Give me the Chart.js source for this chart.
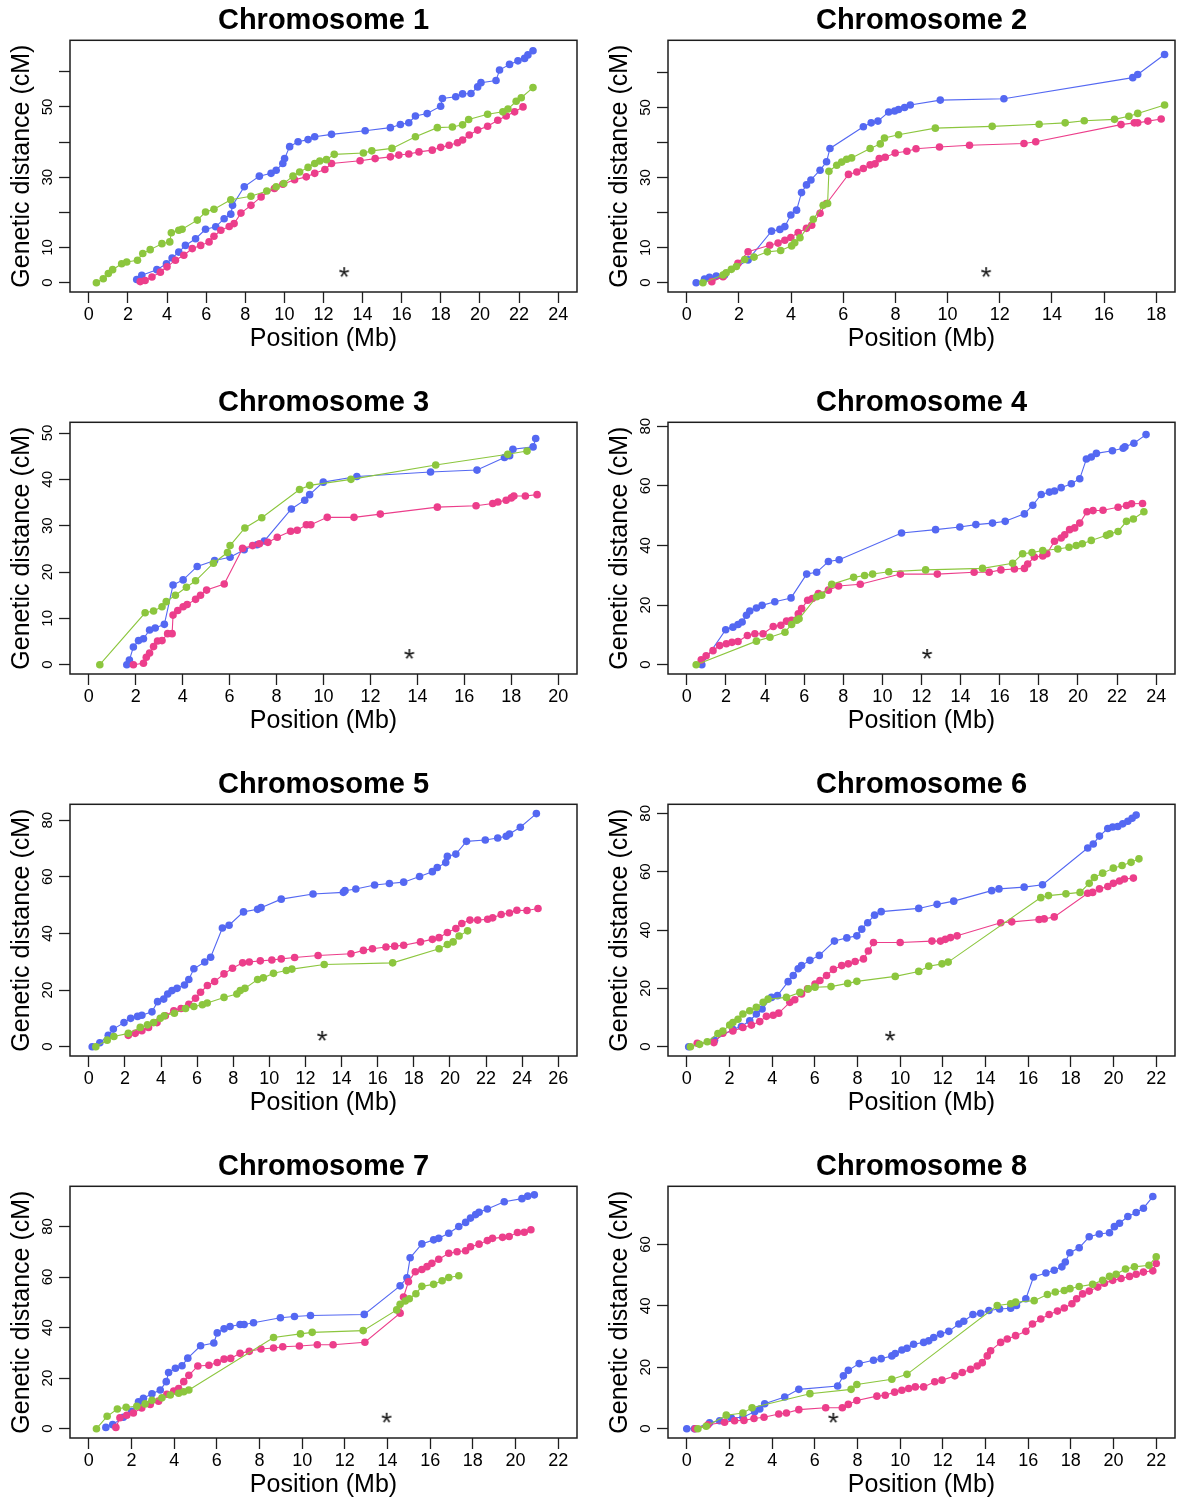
<!DOCTYPE html>
<html><head><meta charset="utf-8">
<script src="https://cdn.jsdelivr.net/npm/chart.js@4.4.1/dist/chart.umd.min.js"></script>
<style>
html,body{margin:0;padding:0;background:#fff;overflow:hidden;width:1183px;height:1501px;position:relative;}
.panel{position:absolute;width:590px;height:382px;}
</style></head><body>
<script>
// ---------- DATA (Position in Mb, Genetic distance in cM) ----------
const chromNames = ['Chromosome 1','Chromosome 2','Chromosome 3','Chromosome 4','Chromosome 5','Chromosome 6','Chromosome 7','Chromosome 8'];
const seriesNames = ['Blue map','Pink map','Green map'];

const chr1Blue = [[2.45,0.9],[2.71,2.1],[3.48,3.7],[3.97,5.4],[4.26,7.0],[4.6,8.7],[4.94,10.6],[5.46,12.5],[5.97,15.2],[6.49,15.9],[6.92,18.2],[7.26,19.5],[7.35,22.0],[7.95,27.3],[8.72,30.3],[9.32,31.1],[9.58,32.0],[9.92,33.9],[10.01,35.3],[10.27,38.7],[10.7,40.1],[11.21,40.7],[11.55,41.5],[12.41,42.2],[14.13,43.2],[15.42,44.1],[15.93,45.0],[16.36,45.5],[16.7,47.4],[17.3,48.1],[17.99,50.2],[18.08,52.4],[18.76,52.9],[19.11,53.7],[19.54,53.8],[19.88,55.7],[20.05,56.9],[20.82,57.5],[21.0,60.5],[21.51,62.1],[21.94,63.1],[22.28,63.8],[22.45,64.8],[22.71,66.0]];
const chr1Green = [[0.39,0],[0.74,1.1],[1.0,2.6],[1.22,3.7],[1.68,5.4],[1.94,5.9],[2.49,6.4],[2.76,8.3],[3.14,9.4],[3.74,11.1],[4.14,11.6],[4.22,14.2],[4.6,14.9],[4.77,15.2],[5.55,17.8],[5.97,20.1],[6.4,20.9],[7.26,23.6],[8.29,24.6],[9.1,26.1],[9.58,27.3],[9.97,28.2],[10.44,30.3],[10.78,31.5],[11.21,32.8],[11.55,33.9],[11.81,34.6],[12.15,35.0],[12.55,36.5],[14.04,36.9],[14.47,37.5],[15.5,38.2],[16.7,41.5],[17.82,44.1],[18.59,44.3],[19.11,44.9],[19.42,46.4],[20.39,47.9],[21.17,48.6],[21.43,49.4],[21.85,51.6],[22.11,52.6],[22.71,55.5]];
const chr1Pink = [[2.63,0.3],[2.88,0.6],[3.23,1.6],[3.66,3.0],[4.0,4.5],[4.43,6.4],[4.86,7.8],[5.29,9.7],[5.72,10.6],[6.15,11.6],[6.4,13.2],[6.75,14.9],[7.18,16.0],[7.43,16.8],[7.78,19.8],[8.29,22.0],[8.81,24.4],[9.49,26.8],[9.92,28.0],[10.52,29.3],[11.12,30.1],[11.55,31.1],[12.07,32.2],[12.41,33.9],[13.87,34.7],[14.64,35.3],[15.42,35.8],[15.85,36.3],[16.36,36.6],[16.88,37.2],[17.56,37.7],[17.99,38.5],[18.42,39.1],[18.85,39.8],[19.11,40.6],[19.45,42.0],[19.88,43.4],[20.39,44.5],[20.91,46.2],[21.34,47.4],[21.77,48.6],[22.2,50.0]];

const chr2Blue = [[0.36,0],[0.68,1.0],[0.87,1.5],[1.13,1.9],[1.45,2.2],[2.35,6.5],[3.25,14.7],[3.57,15.2],[3.76,16.0],[3.99,19.3],[4.21,20.7],[4.4,25.7],[4.59,27.9],[4.76,29.3],[5.11,32.1],[5.36,34.5],[5.49,38.3],[6.77,44.5],[7.07,45.6],[7.33,46.1],[7.74,48.7],[7.97,49.0],[8.12,49.4],[8.35,50.0],[8.57,50.7],[9.72,52.1],[12.16,52.5],[17.1,58.5],[17.29,59.4],[18.32,65.1]];
const chr2Green = [[0.62,0],[1.39,2.2],[1.51,2.8],[1.71,3.8],[1.9,4.6],[2.22,6.6],[2.58,7.3],[3.09,8.8],[3.6,9.2],[4.02,10.5],[4.14,11.4],[4.34,12.8],[4.85,18.1],[5.23,22.1],[5.4,22.6],[5.45,31.8],[5.75,33.5],[5.94,34.4],[6.13,35.2],[6.32,35.6],[7.03,38.3],[7.42,39.6],[7.58,41.3],[8.12,42.2],[9.53,44.1],[11.71,44.6],[13.51,45.2],[14.51,45.6],[15.24,46.2],[16.4,46.6],[16.95,47.5],[17.29,48.3],[18.32,50.7]];
const chr2Pink = [[0.96,0.3],[1.39,1.7],[1.96,5.5],[2.35,8.8],[3.18,10.7],[3.5,11.3],[3.76,12.1],[3.99,12.9],[4.27,14.3],[4.59,15.5],[4.79,16.4],[5.11,19.8],[5.36,22.6],[6.2,30.9],[6.52,31.6],[6.77,32.6],[7.03,33.6],[7.22,33.9],[7.38,35.4],[7.61,35.8],[7.99,37.0],[8.44,37.5],[8.79,38.2],[9.69,38.7],[10.84,39.2],[12.93,39.7],[13.38,40.2],[16.65,45.1],[17.16,45.6],[17.29,45.6],[17.68,46.1],[18.19,46.7]];

const chr3Blue = [[1.62,0],[1.73,1.0],[1.9,3.8],[2.12,5.2],[2.33,5.6],[2.59,7.5],[2.83,7.9],[3.22,8.7],[3.59,17.2],[4.02,18.3],[4.62,21.2],[5.36,22.5],[6.02,23.2],[6.62,24.8],[7.17,25.9],[7.48,26.7],[8.63,33.6],[9.2,35.5],[9.41,36.7],[9.99,39.4],[11.42,40.6],[14.56,41.6],[16.54,42.0],[17.71,44.7],[17.93,45.1],[18.07,46.5],[18.93,47.0],[19.04,48.8]];
const chr3Green = [[0.47,0],[2.4,11.2],[2.76,11.6],[3.12,12.5],[3.3,13.6],[3.69,15.0],[4.16,16.7],[4.55,18.1],[5.31,21.9],[5.91,24.2],[6.02,25.7],[6.65,29.5],[7.37,31.7],[8.98,37.8],[9.41,38.7],[11.17,40.0],[14.78,43.1],[17.85,45.4],[18.67,46.1]];
const chr3Pink = [[1.9,0],[2.33,0.3],[2.45,1.6],[2.59,2.5],[2.76,3.9],[2.93,5.1],[3.12,5.2],[3.36,6.7],[3.55,6.7],[3.59,10.7],[3.79,11.7],[4.02,12.5],[4.19,13.0],[4.55,14.1],[4.76,15.0],[5.02,16.1],[5.77,17.4],[6.55,25.1],[6.98,25.7],[7.27,26.1],[7.63,26.4],[8.03,27.5],[8.6,28.8],[8.88,29.0],[9.27,30.2],[9.46,30.2],[10.16,31.8],[11.3,31.8],[12.42,32.5],[14.85,34.0],[16.5,34.3],[17.21,34.8],[17.43,35.1],[17.78,35.5],[18.0,36.0],[18.11,36.4],[18.6,36.4],[19.1,36.7]];

const chr4Blue = [[0.77,0],[1.99,11.7],[2.36,12.6],[2.62,13.5],[2.83,14.3],[3.05,16.6],[3.22,18.0],[3.56,19.0],[3.85,19.9],[4.5,21.1],[5.33,22.4],[6.13,30.4],[6.64,31.0],[7.24,34.6],[7.79,35.2],[10.98,44.2],[12.72,45.3],[13.96,46.2],[14.78,47.0],[15.63,47.5],[16.28,48.1],[17.26,50.6],[17.69,53.5],[18.12,57.1],[18.54,57.9],[18.8,58.3],[19.14,59.4],[19.66,60.7],[20.09,62.4],[20.43,69.0],[20.68,69.7],[20.94,70.9],[21.76,71.8],[22.31,72.6],[22.4,73.1],[22.86,74.3],[23.48,77.2]];
const chr4Green = [[0.48,0],[3.56,7.9],[4.25,9.2],[5.02,10.9],[5.36,13.5],[5.62,14.9],[5.74,15.4],[6.64,22.8],[6.9,23.3],[7.41,27.0],[8.53,29.3],[9.09,29.9],[9.5,30.4],[10.33,31.2],[12.21,31.8],[15.12,32.3],[16.66,34.0],[17.17,37.2],[17.65,37.6],[18.2,38.3],[18.97,38.8],[19.54,39.4],[19.91,40.0],[20.22,40.6],[20.68,41.7],[21.46,43.4],[21.63,43.9],[22.05,44.7],[22.48,48.1],[22.83,48.9],[23.37,51.3]];
const chr4Pink = [[0.74,1.6],[0.99,3.0],[1.34,4.7],[1.68,6.4],[2.02,7.0],[2.31,7.5],[2.62,7.8],[3.1,9.8],[3.48,10.4],[3.9,10.4],[4.42,12.8],[4.81,13.2],[5.1,14.6],[5.36,14.9],[5.7,17.1],[5.87,18.8],[6.18,21.6],[6.42,22.2],[6.73,23.9],[7.24,25.0],[7.76,26.4],[8.87,27.0],[10.92,30.4],[12.81,30.4],[14.69,31.0],[15.46,31.0],[16.06,31.8],[16.75,32.1],[17.26,32.3],[17.43,33.8],[17.77,36.1],[18.2,36.5],[18.41,37.2],[18.8,41.4],[19.14,42.5],[19.32,43.6],[19.57,45.3],[19.83,45.9],[20.09,47.5],[20.46,51.3],[20.77,51.7],[21.28,51.8],[22.05,52.8],[22.48,53.4],[22.74,54.0],[23.3,54.1]];

const chr5Blue = [[0.19,0],[0.61,1.4],[1.08,4.0],[1.36,6.2],[1.95,8.5],[2.32,10.0],[2.7,10.7],[2.94,11.1],[3.5,12.3],[3.81,15.9],[4.15,16.8],[4.37,18.6],[4.61,19.8],[4.89,20.6],[5.3,21.8],[5.54,23.7],[5.82,27.5],[6.42,29.9],[6.75,31.6],[7.4,41.9],[7.77,42.9],[8.57,47.6],[9.35,48.5],[9.54,49.1],[10.66,52.1],[12.42,53.9],[14.1,54.5],[14.19,55.1],[14.79,55.7],[15.83,57.1],[16.65,57.6],[17.44,58.1],[18.32,60.1],[19.03,61.8],[19.3,63.3],[19.77,65.0],[19.86,67.2],[20.33,68.0],[20.92,72.5],[21.96,73.0],[22.65,73.7],[23.12,74.3],[23.3,75.1],[23.9,77.5],[24.79,82.3]];
const chr5Green = [[0.39,0],[1.02,2.3],[1.39,3.6],[2.19,4.7],[2.85,6.8],[3.25,7.7],[3.59,8.5],[3.96,10.0],[4.18,10.9],[4.74,11.8],[5.36,13.5],[5.82,14.2],[6.29,14.8],[6.56,15.4],[7.49,17.4],[8.2,18.6],[8.39,19.8],[8.65,20.6],[9.35,23.7],[9.67,24.3],[10.23,25.9],[10.94,26.9],[11.25,27.4],[13.04,29.0],[16.83,29.6],[19.4,34.6],[19.86,36.1],[20.18,37.0],[20.51,39.1],[20.98,40.9]];
const chr5Pink = [[2.19,4.0],[2.57,4.7],[2.94,5.6],[3.31,6.8],[3.78,8.5],[4.24,10.9],[4.71,12.7],[5.11,13.5],[5.54,15.0],[5.91,17.1],[6.19,19.2],[6.57,21.6],[6.97,23.0],[7.49,25.7],[7.96,27.7],[8.52,29.6],[8.89,29.9],[9.5,30.3],[10.14,30.6],[10.66,31.0],[11.4,31.5],[12.7,32.2],[14.52,32.8],[15.21,34.0],[15.71,34.6],[16.46,35.2],[16.94,35.5],[17.44,35.8],[18.37,37.0],[19.03,37.9],[19.4,38.5],[19.86,40.3],[20.33,41.7],[20.66,43.5],[21.11,44.7],[21.54,44.7],[22.09,45.0],[22.37,45.5],[22.84,46.7],[23.3,47.2],[23.71,48.2],[24.27,48.1],[24.88,48.8]];

const chr6Blue = [[0.09,0],[1.3,2.2],[2.16,6.0],[2.56,6.9],[2.95,8.9],[3.26,11.2],[3.53,12.9],[3.97,16.9],[4.25,17.5],[4.75,22.3],[4.99,24.4],[5.22,26.7],[5.38,27.8],[5.77,29.6],[6.21,31.3],[6.92,36.2],[7.5,37.3],[7.97,38.0],[8.2,40.3],[8.48,42.5],[8.8,45.1],[9.11,46.3],[10.87,47.4],[11.73,48.8],[12.51,49.9],[14.29,53.5],[14.63,54.1],[15.81,54.7],[16.67,55.5],[18.79,68.1],[19.05,69.5],[19.34,72.2],[19.73,74.8],[19.96,75.3],[20.2,75.5],[20.43,76.4],[20.67,77.3],[20.87,78.3],[21.06,79.4]];
const chr6Green = [[0.17,0],[0.6,0.8],[0.96,1.7],[1.46,4.5],[1.69,5.4],[2.01,7.4],[2.16,8.3],[2.4,9.4],[2.63,11.2],[2.95,12.3],[3.26,13.5],[3.58,15.2],[3.81,16.3],[4.67,16.9],[5.3,18.6],[5.69,19.8],[6.01,20.4],[6.76,20.6],[7.54,21.7],[7.97,22.4],[9.77,24.1],[10.87,25.8],[11.34,27.6],[11.96,28.4],[12.25,29.0],[16.59,51.1],[16.95,51.8],[17.77,52.4],[18.43,52.9],[18.86,56.0],[19.1,58.0],[19.49,59.5],[19.99,61.2],[20.4,62.1],[20.82,63.2],[21.19,64.4]];
const chr6Pink = [[0.49,1.2],[1.27,1.4],[1.69,4.6],[2.16,5.4],[2.63,6.6],[3.03,7.4],[3.42,8.6],[3.73,10.4],[4.05,10.8],[4.31,11.5],[4.83,15.2],[5.06,16.1],[5.38,18.1],[5.66,19.8],[6.01,21.5],[6.24,22.7],[6.55,24.4],[6.87,26.5],[7.26,27.8],[7.57,28.4],[7.89,29.2],[8.28,30.1],[8.51,32.8],[8.75,35.7],[10.0,35.7],[11.49,36.2],[11.89,36.2],[12.12,36.8],[12.36,37.4],[12.67,38.0],[14.71,42.5],[15.23,42.8],[16.51,43.6],[16.75,43.8],[17.22,44.5],[18.79,52.6],[19.02,52.9],[19.34,54.1],[19.73,54.9],[19.99,56.0],[20.28,56.8],[20.51,57.5],[20.93,57.8]];

const chr7Blue = [[0.8,0.5],[1.12,1.6],[1.62,4.5],[2.01,6.9],[2.33,10.6],[2.56,12.0],[2.96,13.8],[3.35,15.3],[3.63,18.6],[3.74,22.2],[4.06,23.9],[4.37,24.9],[4.64,27.9],[5.24,32.8],[5.86,33.9],[6.02,37.9],[6.34,39.5],[6.62,40.4],[7.09,41.2],[7.28,41.2],[7.72,41.9],[8.98,43.9],[9.64,44.4],[10.39,44.8],[12.91,45.2],[14.59,56.5],[14.91,59.7],[15.06,67.6],[15.61,73.1],[16.16,74.7],[16.4,75.3],[16.87,77.3],[17.34,80.0],[17.66,81.6],[17.89,83.3],[18.13,84.7],[18.29,85.6],[18.68,86.9],[19.47,89.8],[20.3,91.0],[20.57,92.0],[20.88,92.5]];
const chr7Green = [[0.36,0],[0.86,4.9],[1.34,7.8],[1.75,8.5],[2.25,8.9],[2.64,9.8],[2.96,11.2],[3.43,12.2],[3.82,13.3],[4.21,14.0],[4.45,14.6],[4.69,15.3],[8.66,36.1],[9.92,37.5],[10.47,38.1],[12.86,38.8],[14.43,47.0],[14.59,49.2],[14.83,50.5],[15.02,51.4],[15.33,53.4],[15.61,56.3],[16.16,57.1],[16.56,58.5],[16.87,59.8],[17.34,60.5]];
const chr7Pink = [[1.27,0.5],[1.46,4.3],[1.78,5.3],[2.09,6.2],[2.48,8.2],[2.88,9.6],[3.27,10.9],[3.66,13.6],[3.98,14.9],[4.21,15.9],[4.45,18.6],[4.69,21.1],[5.11,24.8],[5.63,25.1],[6.02,26.2],[6.34,27.5],[6.65,27.8],[7.09,29.8],[7.52,30.6],[8.07,31.5],[8.66,31.9],[9.09,32.4],[9.87,32.7],[10.71,33.2],[11.45,33.2],[12.94,34.2],[14.59,45.7],[14.75,52.1],[14.98,58.1],[15.3,62.1],[15.61,63.0],[15.85,64.1],[16.08,65.4],[16.4,67.0],[16.87,69.4],[17.26,70.0],[17.66,70.4],[17.89,72.0],[18.29,73.0],[18.68,74.4],[18.92,75.3],[19.39,75.7],[19.7,76.0],[20.09,77.6],[20.41,77.7],[20.72,78.7]];

const chr8Blue = [[0,0],[0.36,0],[1.07,1.9],[1.54,2.6],[2.09,3.5],[2.63,3.7],[3.18,5.5],[3.42,6.4],[3.65,8.1],[4.59,10.3],[5.25,12.8],[7.07,13.9],[7.34,17.2],[7.57,19.0],[8.08,21.2],[8.75,22.3],[9.11,22.8],[9.61,23.7],[9.77,24.5],[10.08,25.6],[10.32,26.2],[10.63,27.5],[11.1,28.1],[11.34,28.6],[11.57,29.7],[11.89,30.8],[12.28,31.7],[12.75,34.1],[12.98,35.0],[13.41,37.2],[13.77,37.6],[14.16,38.5],[14.66,39.0],[15.18,39.2],[15.45,40.1],[15.89,42.3],[16.25,49.4],[16.83,50.7],[17.22,51.6],[17.58,52.7],[17.74,54.3],[17.95,57.3],[18.39,58.9],[18.86,62.5],[19.33,63.4],[19.81,63.8],[20.04,65.8],[20.28,66.9],[20.67,69.1],[21.06,70.4],[21.4,71.8],[21.84,75.6]];
const chr8Green = [[0.52,0],[0.91,0.8],[1.85,4.4],[2.63,5.1],[3.06,6.8],[5.77,11.4],[7.7,12.8],[7.97,14.4],[9.61,16.1],[10.32,17.7],[14.55,40.1],[15.18,40.7],[15.41,41.2],[16.28,41.7],[16.9,43.7],[17.27,44.5],[17.69,45.0],[17.96,45.6],[18.39,46.3],[19.02,47.0],[19.49,48.3],[19.81,49.6],[20.12,50.3],[20.56,52.0],[20.98,52.7],[21.66,53.2],[22.0,56.0]];
const chr8Pink = [[0.39,0],[0.99,1.3],[1.77,2.1],[2.24,2.6],[2.68,2.7],[3.15,3.3],[3.62,3.7],[4.31,4.8],[4.67,5.1],[5.25,6.2],[6.51,6.8],[7.29,6.8],[7.57,7.9],[7.97,9.2],[8.91,10.6],[9.3,10.9],[9.74,11.9],[10.08,12.5],[10.4,13.1],[10.71,13.6],[11.1,13.6],[11.62,15.3],[11.96,15.8],[12.56,17.2],[12.91,18.3],[13.3,19.3],[13.61,20.4],[13.85,21.5],[14.08,23.7],[14.24,25.4],[14.71,28.1],[15.02,29.2],[15.41,30.3],[15.89,31.7],[16.2,34.1],[16.59,35.7],[16.98,37.2],[17.37,38.3],[17.69,39.3],[18.05,40.7],[18.27,42.3],[18.55,43.9],[18.86,44.8],[19.26,46.1],[19.57,47.4],[19.96,48.3],[20.35,48.9],[20.75,49.6],[21.06,50.3],[21.4,51.0],[21.84,51.4],[22.0,53.8]];

// star markers (position in Mb, height in cM)
const starX = [13.06, 11.48, 13.66, 12.29, 12.93, 9.53, 13.96, 6.87];
const starY = [3.0, 3.0, 2.3, 3.6, 3.8, 3.7, 4.3, 3.5];

// axes
const xTickMax = [24, 18, 20, 24, 26, 22, 22, 22];
const xTickStep = 2;
const yTickValues = [
  [0,10,20,30,40,50,60],[0,10,20,30,40,50,60],[0,10,20,30,40,50],
  [0,20,40,60,80],[0,20,40,60,80],[0,20,40,60,80],[0,20,40,60,80],[0,20,40,60]
];
const yTickLabels = [
  ['0','10','','30','','50',''],['0','10','','30','','50',''],['0','10','20','30','40','50'],
  ['0','20','40','60','80'],['0','20','40','60','80'],['0','20','40','60','80'],['0','20','40','60','80'],['0','20','40','60']
];
const yRangeTop = [66.3, 66.5, 50.3, 78.2, 82.3, 79.9, 92.2, 75.9];

const blueSeries = [chr1Blue, chr2Blue, chr3Blue, chr4Blue, chr5Blue, chr6Blue, chr7Blue, chr8Blue];
const greenSeries = [chr1Green, chr2Green, chr3Green, chr4Green, chr5Green, chr6Green, chr7Green, chr8Green];
const pinkSeries = [chr1Pink, chr2Pink, chr3Pink, chr4Pink, chr5Pink, chr6Pink, chr7Pink, chr8Pink];

// ---------- STYLE ----------
const FONT = "'Liberation Sans', Arial, Helvetica, sans-serif";
const BLUE = '#5468f2', GREEN = '#8cc63e', PINK = '#ec3e8b';

const starImg = (() => {
  const c = document.createElement('canvas'); c.width = 24; c.height = 24;
  const g = c.getContext('2d');
  g.font = '28px ' + FONT; g.fillStyle = '#1a1a1a'; g.textAlign = 'left'; g.textBaseline = 'alphabetic';
  const m = g.measureText('*');
  const x0 = 12 - (m.actualBoundingBoxRight - m.actualBoundingBoxLeft) / 2;
  const y0 = 12 + (m.actualBoundingBoxAscent - m.actualBoundingBoxDescent) / 2;
  g.fillText('*', x0, y0);
  return c;
})();

const boxPlugin = {
  id: 'plotBox',
  afterDatasetsDraw(chart) {
    const {ctx, chartArea: a} = chart;
    ctx.save(); ctx.strokeStyle = '#1e1e1e'; ctx.lineWidth = 1.5;
    ctx.strokeRect(a.left, a.top, a.right - a.left, a.bottom - a.top);
    ctx.restore();
  }
};

function series(label, pts, color) {
  return {
    label, data: pts.map(p => ({x: p[0], y: p[1]})), showLine: true,
    borderColor: color, backgroundColor: color, borderWidth: 1.1,
    pointRadius: 3.8, pointBorderWidth: 0, pointBackgroundColor: color, tension: 0
  };
}

for (let i = 0; i < 8; i++) {
  const col = i % 2, row = Math.floor(i / 2);
  const div = document.createElement('div'); div.className = 'panel';
  div.style.left = (col * 598) + 'px'; div.style.top = (row * 382) + 'px';
  const cv = document.createElement('canvas'); cv.width = 590; cv.height = 382;
  div.appendChild(cv); document.body.appendChild(div);

  const xr = xTickMax[i], yr = yRangeTop[i];
  const xTicks = []; for (let v = 0; v <= xr; v += xTickStep) xTicks.push(v);
  const yVals = yTickValues[i], yLabs = yTickLabels[i];

  new Chart(cv, {
    type: 'scatter',
    data: { datasets: [
      { label: 'marker', data: [{x: starX[i], y: starY[i]}], pointStyle: starImg, pointRadius: 12, showLine: false },
      series(seriesNames[2], greenSeries[i], GREEN),
      series(seriesNames[1], pinkSeries[i], PINK),
      series(seriesNames[0], blueSeries[i], BLUE)
    ]},
    options: {
      responsive: false, animation: false, events: [], devicePixelRatio: 1,
      layout: { padding: { left: 0, right: 8, top: 0, bottom: 28 } },
      plugins: {
        legend: { display: false }, tooltip: { enabled: false },
        title: { display: true, fullSize: false, text: chromNames[i], color: '#000',
          font: { family: FONT, size: 29, weight: 'bold', lineHeight: 1.2 }, padding: { top: 4, bottom: 1.5 } }
      },
      scales: {
        x: {
          type: 'linear', min: -0.04 * xr, max: 1.04 * xr,
          afterBuildTicks: s => { s.ticks = xTicks.map(v => ({value: v})); },
          afterFit: s => { s.height = 62; },
          ticks: { font: { family: FONT, size: 18 }, color: '#000', padding: 1, autoSkip: false, maxRotation: 0, minRotation: 0,
            callback: v => String(v) },
          grid: { drawOnChartArea: false, drawTicks: true, tickLength: 11, tickColor: '#1e1e1e', tickWidth: 1.3 },
          border: { display: false },
          title: { display: true, text: 'Position (Mb)', color: '#000', font: { family: FONT, size: 25, lineHeight: 1.2 }, padding: { top: 0, bottom: 0 } }
        },
        y: {
          type: 'linear', min: -0.04 * yr, max: 1.04 * yr,
          afterBuildTicks: s => { s.ticks = yVals.map(v => ({value: v})); },
          afterFit: s => { s.width = 70; },
          ticks: { font: { family: FONT, size: 15 }, color: '#000', padding: 3, autoSkip: false, minRotation: 90, maxRotation: 90,
            crossAlign: 'center', callback: (v, idx) => yLabs[yVals.indexOf(v)] ?? '' },
          grid: { drawOnChartArea: false, drawTicks: true, tickLength: 11, tickColor: '#1e1e1e', tickWidth: 1.3 },
          border: { display: false },
          title: { display: true, text: 'Genetic distance (cM)', color: '#000', font: { family: FONT, size: 25, lineHeight: 1.2 }, padding: { top: 7, bottom: 0 } }
        }
      }
    },
    plugins: [boxPlugin]
  });
}
</script>
</body></html>
